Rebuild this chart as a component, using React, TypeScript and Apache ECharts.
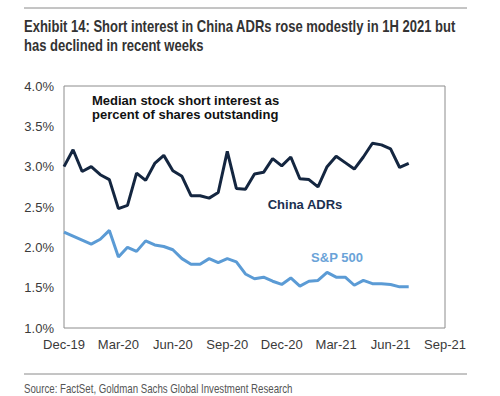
import React, { useEffect, useRef } from "react";
import * as echarts from "echarts";

// Semi-monthly observations, Dec-19 through mid Jul-21
const chinaADRs = [
  3.0, 3.21, 2.94, 3.0, 2.9, 2.84, 2.48, 2.52, 2.92, 2.83, 3.04, 3.14, 2.95,
  2.88, 2.64, 2.64, 2.61, 2.68, 3.19, 2.73, 2.72, 2.91, 2.93, 3.1, 3.01, 3.12,
  2.85, 2.84, 2.75, 3.0, 3.13, 3.05, 2.97, 3.12, 3.29, 3.27, 3.22, 2.99, 3.04,
];
const sp500 = [
  2.19, 2.14, 2.09, 2.04, 2.1, 2.21, 1.88, 2.0, 1.95, 2.08, 2.03, 2.01, 1.97,
  1.86, 1.79, 1.79, 1.86, 1.81, 1.86, 1.82, 1.67, 1.61, 1.63, 1.58, 1.54, 1.62,
  1.52, 1.58, 1.59, 1.69, 1.63, 1.63, 1.53, 1.59, 1.55, 1.55, 1.54, 1.51, 1.51,
];
const xTickLabels = ["Dec-19", "Mar-20", "Jun-20", "Sep-20", "Dec-20", "Mar-21", "Jun-21", "Sep-21"];
const monthsPerTick = 3;
const stepMonths = 0.5; // observation spacing in months

const titleLine1 = "Exhibit 14: Short interest in China ADRs rose modestly in 1H 2021 but";
const titleLine2 = "has declined in recent weeks";
const sourceText = "Source: FactSet, Goldman Sachs Global Investment Research";

const TITLE_FONT = "bold 16px 'Liberation Sans', Arial, sans-serif";
const SOURCE_FONT = "12px 'Liberation Sans', Arial, sans-serif";

function measure(text: string, font: string): number {
  const c = document.createElement("canvas").getContext("2d");
  if (!c) return text.length * 7;
  c.font = font;
  return c.measureText(text).width;
}

export default function App() {
  const ref = useRef<HTMLDivElement>(null);
  useEffect(() => {
    if (!ref.current) return;
    const chart = echarts.init(ref.current, null, { renderer: "svg" });
    const toPairs = (arr: number[]) => arr.map((v, i) => [i * stepMonths, v]);
    const titleScale = 432 / measure(titleLine1, TITLE_FONT);
    const sourceScale = 269 / measure(sourceText, SOURCE_FONT);
    chart.setOption({
      animation: false,
      backgroundColor: "#fff",
      grid: {
        left: 64,
        right: 55,
        top: 86,
        bottom: 68,
        show: true,
        borderColor: "#8c8c8c",
        borderWidth: 1,
      },
      xAxis: {
        type: "value",
        min: 0,
        max: (xTickLabels.length - 1) * monthsPerTick,
        interval: monthsPerTick,
        splitLine: { show: false },
        axisLine: { show: false },
        axisTick: { show: false },
        axisLabel: {
          color: "#3a3a3a",
          fontSize: 13,
          fontFamily: "'Liberation Sans', Arial, sans-serif",
          margin: 10,
          formatter: (v: number) => xTickLabels[Math.round(v / monthsPerTick)] ?? "",
        },
      },
      yAxis: {
        type: "value",
        min: 1.0,
        max: 4.0,
        interval: 0.5,
        splitLine: { show: false },
        axisLine: { show: false },
        axisTick: { show: false },
        axisLabel: {
          color: "#3a3a3a",
          fontSize: 13,
          fontFamily: "'Liberation Sans', Arial, sans-serif",
          margin: 10,
          formatter: (v: number) => v.toFixed(1) + "%",
        },
      },
      series: [
        {
          name: "China ADRs",
          type: "line",
          data: toPairs(chinaADRs),
          showSymbol: false,
          lineStyle: { color: "#142640", width: 3 },
          itemStyle: { color: "#142640" },
        },
        {
          name: "S&P 500",
          type: "line",
          data: toPairs(sp500),
          showSymbol: false,
          lineStyle: { color: "#5b9bd5", width: 3 },
          itemStyle: { color: "#5b9bd5" },
        },
      ],
      graphic: [
        {
          type: "line",
          shape: { x1: 24, y1: 8, x2: 467, y2: 8 },
          style: { stroke: "#8a8a8a", lineWidth: 1 },
        },
        {
          type: "text",
          x: 24,
          y: 27,
          scaleX: titleScale,
          style: {
            text: titleLine1,
            fill: "#333",
            font: TITLE_FONT,
            verticalAlign: "middle",
          },
        },
        {
          type: "text",
          x: 24,
          y: 46,
          scaleX: titleScale,
          style: {
            text: titleLine2,
            fill: "#333",
            font: TITLE_FONT,
            verticalAlign: "middle",
          },
        },
        {
          type: "text",
          left: 92,
          top: 93,
          style: {
            text: "Median stock short interest as\npercent of shares outstanding",
            fill: "#111",
            font: "bold 13px 'Liberation Sans', Arial, sans-serif",
            lineHeight: 14.5,
          },
        },
        {
          type: "text",
          x: 305,
          y: 204,
          style: {
            text: "China ADRs",
            fill: "#1b3050",
            font: "bold 13px 'Liberation Sans', Arial, sans-serif",
            align: "center",
            verticalAlign: "middle",
          },
        },
        {
          type: "text",
          x: 337,
          y: 257,
          style: {
            text: "S&P 500",
            fill: "#6aa3d8",
            font: "bold 13px 'Liberation Sans', Arial, sans-serif",
            align: "center",
            verticalAlign: "middle",
          },
        },
        {
          type: "line",
          shape: { x1: 24, y1: 374, x2: 467, y2: 374 },
          style: { stroke: "#8a8a8a", lineWidth: 1 },
        },
        {
          type: "text",
          x: 24,
          y: 389,
          scaleX: sourceScale,
          style: {
            text: sourceText,
            fill: "#555",
            font: SOURCE_FONT,
            verticalAlign: "middle",
          },
        },
      ],
    });
    return () => chart.dispose();
  }, []);
  return <div ref={ref} style={{ width: 500, height: 396, position: "absolute", left: 0, top: 0 }} />;
}
